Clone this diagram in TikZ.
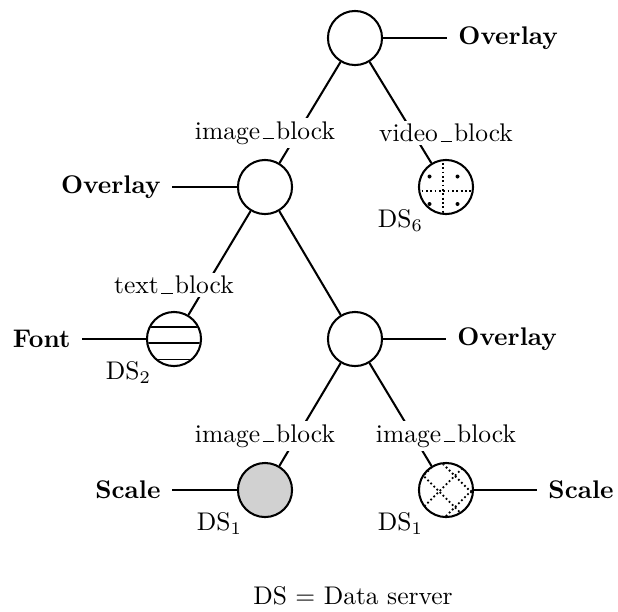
\documentclass[tikz,border=0pt]{standalone}
\newcommand\lowbar{\leavevmode\kern.1em\vbox{\hrule width.45em}\kern.08em}
\begin{document}
\begin{tikzpicture}[x=0.392pt,y=-0.392pt,
  ds/.style={circle,draw,line width=0.8pt,minimum size=21.2pt,inner sep=0pt},
  edge/.style={line width=0.8pt},
  elabel/.style={fill=white,inner sep=1.3pt},
  side/.style={font=\bfseries,inner sep=4.3pt},
  dsl/.style={inner sep=1pt},
  hatch/.style={line width=0.7pt,densely dotted}]
\useasboundingbox (0,0) rectangle (618,611);
% data-server circles
\node[ds] (R) at (355,38) {};
\node[ds] (A) at (265,187) {};
\node[ds,label={[dsl]below left:DS$_6$}] (B) at (446,187) {};
\node[ds,label={[dsl]below left:DS$_2$}] (C) at (174,339) {};
\node[ds] (D) at (355,339) {};
\node[ds,fill=black!18,label={[dsl]below left:DS$_1$}] (E) at (265,490) {};
\node[ds,label={[dsl]below left:DS$_1$}] (F) at (446,490) {};
% patterns
\begin{scope}
  \clip (446,187) circle (26);
  \draw[hatch] (443,150) -- (443,230);
  \draw[hatch] (400,191) -- (490,191);
  \foreach \px/\py in {429.5/176.5,457.5/176.5,429.5/204,457.5/204}
    \fill (\px,\py) circle (2);
\end{scope}
\begin{scope}
  \clip (174,339) circle (26);
  \foreach \dy in {-12,4,20.5}
    \draw[line width=0.7pt] (140,339+\dy) -- (210,339+\dy);
\end{scope}
\begin{scope}
  \clip (446,490) circle (26);
  \foreach \k in {-37,-5.3,26}
    \draw[hatch] (446-40,490+\k+40) -- (446+40,490+\k-40);
  \foreach \k in {-23,8.3}
    \draw[hatch] (446-40,490+\k-40) -- (446+40,490+\k+40);
\end{scope}
% tree edges
\draw[edge] (R) -- (A);
\draw[edge] (R) -- (B);
\draw[edge] (A) -- (C);
\draw[edge] (A) -- (D);
\draw[edge] (D) -- (E);
\draw[edge] (D) -- (F);
% edge labels
\node[elabel] (lA) at (265,133) {image\lowbar block};
\node[elabel] (lB) at (446,133) {video\lowbar block};
\node[elabel] (lC) at (174,285) {text\lowbar block};
\node[elabel] (lE) at (265,436) {image\lowbar block};
\node[elabel] (lF) at (446,436) {image\lowbar block};
% side operations
\node[side,anchor=west] (oR) at (447,38) {Overlay};
\draw[edge] (R) -- (oR);
\node[side,anchor=east] (oA) at (172,187) {Overlay};
\draw[edge] (A) -- (oA);
\node[side,anchor=east] (oC) at (82,339) {Font};
\draw[edge] (C) -- (oC);
\node[side,anchor=west] (oD) at (446,339) {Overlay};
\draw[edge] (D) -- (oD);
\node[side,anchor=east] (oE) at (172,490) {Scale};
\draw[edge] (E) -- (oE);
\node[side,anchor=west] (oF) at (537,490) {Scale};
\draw[edge] (F) -- (oF);
% legend
\node (legend) at (353,596) {DS $=$ Data server};
\end{tikzpicture}
\end{document}
